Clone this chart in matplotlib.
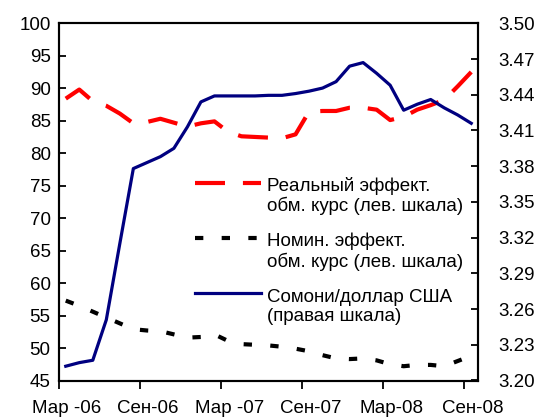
import matplotlib.pyplot as plt
import matplotlib.transforms as mtransforms
import numpy as np

plt.rcParams['font.family'] = ['Liberation Sans', 'DejaVu Sans']
plt.rcParams['font.size'] = 13.5

# monthly data, Mar-06 .. Sep-08
months = np.arange(31)
tick_labels = ["Мар -06", "Сен-06", "Мар -07", "Сен-07", "Мар-08", "Сен-08"]

real_eer = [88.4, 89.8, 88.0, 87.3, 86.1, 84.6, 84.8, 85.3, 84.7, 84.1,
            84.6, 84.9, 83.3, 82.6, 82.5, 82.4, 82.3, 82.9, 86.4, 86.5,
            86.5, 87.0, 87.0, 86.7, 85.1, 85.6, 86.7, 87.4, 88.2, 90.3, 92.5]
nominal_eer = [57.3, 56.5, 55.6, 54.7, 53.8, 52.9, 52.7, 52.6, 52.1, 51.6,
               51.7, 52.1, 51.1, 50.6, 50.5, 50.4, 50.2, 49.9, 49.5, 48.9,
               48.4, 48.3, 48.4, 48.1, 47.5, 47.2, 47.4, 47.4, 47.2, 48.0, 48.8]
somoni_usd = [3.212, 3.215, 3.217, 3.251, 3.315, 3.378, 3.383, 3.388, 3.395, 3.413,
              3.434, 3.439, 3.439, 3.439, 3.439, 3.4395, 3.4395, 3.441, 3.443, 3.4456,
              3.451, 3.464, 3.467, 3.458, 3.448, 3.427, 3.432, 3.436, 3.429, 3.423, 3.416]

labels = ["Реальный эффект.\nобм. курс (лев. шкала)",
          "Номин. эффект.\nобм. курс (лев. шкала)",
          "Сомони/доллар США\n(правая шкала)"]

red_style = dict(color="#ff0000", lw=3.0, dashes=(7.2, 4.3))
black_style = dict(color="black", lw=3.0, dashes=(2.0, 4.4))
blue_style = dict(color="#000080", lw=2.3)

fig = plt.figure(figsize=(5.35, 4.18), dpi=100)
ax = fig.add_axes([59/535, 37.5/418, 419/535, 357.2/418])
ax2 = ax.twinx()

x = months + 0.5
ax.plot(x, real_eer, **red_style)
ax.plot(x, nominal_eer, **black_style)
ax2.plot(x, somoni_usd, **blue_style)

ax.set_xlim(0, 31)
ax.set_ylim(45, 100)
ax.set_yticks(np.arange(45, 101, 5))
ax2.set_ylim(3.20, 3.50)
right_ticks = np.arange(3.20, 3.501, 0.03)
ax2.set_yticks(right_ticks)
ax2.set_yticklabels([f"{v:.2f}" for v in right_ticks])

ax.set_xticks(months[::6])
ax.set_xticklabels(tick_labels)
ax.tick_params(axis='x', direction='out', length=6, width=1.3, pad=8)
ax.tick_params(axis='y', direction='in', length=5, width=1.3, pad=6)
ax2.tick_params(axis='y', direction='in', length=5, width=1.3, pad=15)

# month labels sit a little to the right of their ticks
shift = mtransforms.ScaledTranslation(8/100, 0, fig.dpi_scale_trans)
for lbl in ax.get_xticklabels():
    lbl.set_transform(lbl.get_transform() + shift)

for a in (ax, ax2):
    for s in a.spines.values():
        s.set_linewidth(1.5)

# legend drawn by hand so the line sits next to the first text line
styles = [red_style, black_style, blue_style]
line_y = [0.553, 0.399, 0.244]
text_y = [0.517, 0.361, 0.206]
for st, ly, ty, lab in zip(styles, line_y, text_y, labels):
    ax.plot([0.324, 0.483], [ly, ly], transform=ax.transAxes, clip_on=False, **st)
    ax.text(0.497, ty, lab, transform=ax.transAxes, va='center', ha='left', linespacing=1.15)

fig.savefig("out.png", dpi=100)
